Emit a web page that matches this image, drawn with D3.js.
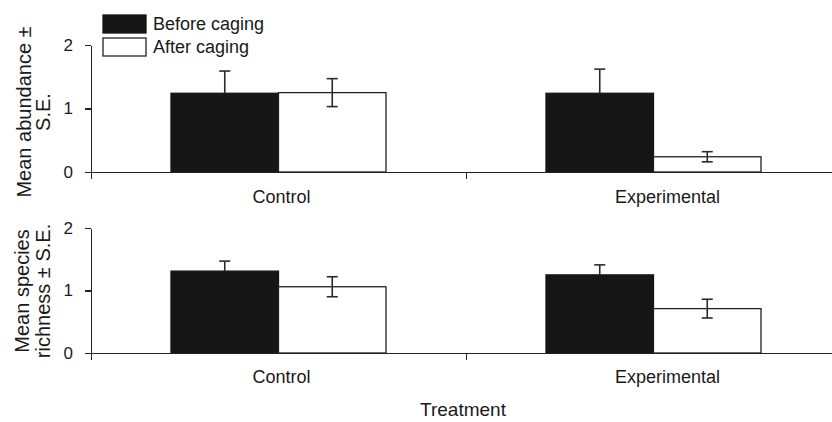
<!DOCTYPE html>
<html>
<head>
<meta charset="utf-8">
<script src="https://cdn.jsdelivr.net/npm/d3@7"></script>
<style>
  body { margin: 0; background: #fff; }
  svg { display: block; font-family: "Liberation Sans", Arial, Helvetica, sans-serif; }
  .axis path, .axis line { stroke: #222; stroke-width: 1.3; shape-rendering: crispEdges; }
  .axis text { fill: #1a1a1a; }
</style>
</head>
<body>
<svg width="832" height="422"></svg>
<script>
const categories = ['Control', 'Experimental']
const seriesNames = ['Before caging', 'After caging']
const yTicks = [0, 1, 2]

// panel a: abundance
const abundanceBefore = [1.24, 1.24]
const abundanceBeforeSE = [0.35, 0.38]
const abundanceAfter = [1.25, 0.24]
const abundanceAfterSE = [0.22, 0.08]

// panel b: species richness
const richnessBefore = [1.31, 1.25]
const richnessBeforeSE = [0.16, 0.16]
const richnessAfter = [1.06, 0.71]
const richnessAfterSE = [0.16, 0.15]

const left = 91
const colors = ['#161616', '#ffffff']

const svg = d3.select('svg')

const x0 = d3.scaleBand()
  .domain(categories)
  .range([left, left + 750])
  .padding(0)

const x1 = d3.scaleBand()
  .domain(seriesNames)
  .range([80, x0.bandwidth() - 80])
  .padding(0)

// band edges for the x-axis ticks
const xEdge = d3.scaleLinear().domain([0, categories.length]).range(x0.range())

const labelNudge = { Control: 3, Experimental: 14 }

const panels = [
  { title: ['Mean abundance \u00b1', 'S.E.'], titleY: 112, titleX: [31, 50],
    before: abundanceBefore, beforeSE: abundanceBeforeSE,
    after: abundanceAfter, afterSE: abundanceAfterSE,
    range: [172, 45], labelPad: 18 },
  { title: ['Mean species', 'richness \u00b1 S.E.'], titleY: 291, titleX: [29, 50],
    before: richnessBefore, beforeSE: richnessBeforeSE,
    after: richnessAfter, afterSE: richnessAfterSE,
    range: [353, 228], labelPad: 17 }
]

panels.forEach(p => {
  const y = d3.scaleLinear().domain([0, 2]).range(p.range)
  const g = svg.append('g')

  const rows = []
  categories.forEach((c, i) => {
    rows.push({ cat: c, series: seriesNames[0], value: p.before[i], se: p.beforeSE[i], dark: true })
    rows.push({ cat: c, series: seriesNames[1], value: p.after[i], se: p.afterSE[i], dark: false })
  })

  g.selectAll('rect.bar')
    .data(rows)
    .join('rect')
      .attr('class', 'bar')
      .attr('x', d => x0(d.cat) + x1(d.series))
      .attr('y', d => y(d.value))
      .attr('width', x1.bandwidth())
      .attr('height', d => y(0) - y(d.value))
      .attr('fill', d => d.dark ? colors[0] : colors[1])
      .attr('stroke', d => d.dark ? colors[0] : '#222')
      .attr('stroke-width', 1.3)

  const err = g.selectAll('g.err')
    .data(rows)
    .join('g')
      .attr('class', 'err')
      .attr('transform', d => `translate(${x0(d.cat) + x1(d.series) + x1.bandwidth() / 2},0)`)
      .attr('stroke', '#2a2a2a')
      .attr('stroke-width', 1.6)

  // the lower half of the bar is hidden inside the dark bars
  err.append('line')
    .attr('y1', d => y(d.dark ? d.value : d.value - d.se))
    .attr('y2', d => y(d.value + d.se))
  err.append('line')
    .attr('x1', -5.5).attr('x2', 5.5)
    .attr('y1', d => y(d.value + d.se)).attr('y2', d => y(d.value + d.se))
  err.filter(d => !d.dark).append('line')
    .attr('x1', -5.5).attr('x2', 5.5)
    .attr('y1', d => y(d.value - d.se)).attr('y2', d => y(d.value - d.se))

  // y axis
  g.append('g')
    .attr('class', 'axis')
    .attr('transform', `translate(${left},0)`)
    .call(d3.axisLeft(y).tickValues(yTicks).tickFormat(d3.format('d')).tickSize(6).tickSizeOuter(0).tickPadding(12))
    .call(a => a.selectAll('text').attr('font-size', 17))

  // x axis line with ticks at band edges
  g.append('g')
    .attr('class', 'axis')
    .attr('transform', `translate(0,${y(0)})`)
    .call(d3.axisBottom(xEdge).tickValues(d3.range(categories.length + 1)).tickFormat('').tickSize(7).tickSizeOuter(0))

  // category labels
  g.append('g')
    .attr('class', 'axis')
    .attr('transform', `translate(0,${y(0)})`)
    .call(d3.axisBottom(x0).tickSize(0).tickPadding(p.labelPad))
    .call(a => a.select('.domain').remove())
    .call(a => a.selectAll('text')
      .attr('font-size', 18)
      .attr('dx', d => labelNudge[d]))

  // y title
  const t = g.append('text')
    .attr('transform', `translate(0,${p.titleY}) rotate(-90)`)
    .attr('text-anchor', 'middle')
    .attr('font-size', 20)
    .attr('fill', '#1a1a1a')
  t.selectAll('tspan')
    .data(p.title)
    .join('tspan')
      .attr('x', 0)
      .attr('y', (d, i) => p.titleX[i])
      .text(d => d)
})

// legend
const legend = svg.append('g')
  .selectAll('g')
  .data(seriesNames)
  .join('g')
    .attr('transform', (d, i) => `translate(103,${15 + i * 23})`)

legend.append('rect')
  .attr('width', 43)
  .attr('height', 18)
  .attr('fill', (d, i) => colors[i])
  .attr('stroke', (d, i) => i === 0 ? colors[0] : '#222')
  .attr('stroke-width', 1.3)

legend.append('text')
  .attr('x', 50)
  .attr('y', 15)
  .attr('font-size', 18)
  .attr('fill', '#1a1a1a')
  .text(d => d)

svg.append('text')
  .attr('x', 463)
  .attr('y', 416)
  .attr('text-anchor', 'middle')
  .attr('font-size', 19)
  .attr('fill', '#1a1a1a')
  .text('Treatment')
</script>
</body>
</html>
